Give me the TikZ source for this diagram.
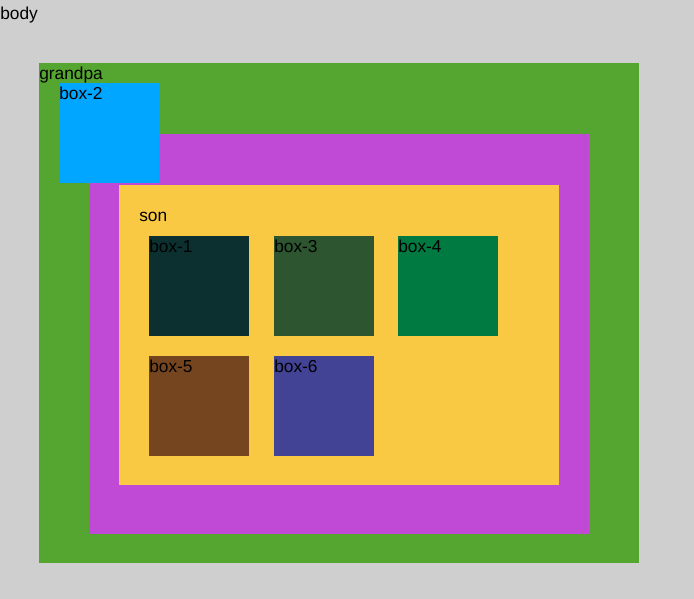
\documentclass[tikz,border=0pt]{standalone}
\usepackage{fontspec}
\setmainfont{Liberation Sans}
\definecolor{bodygray}{RGB}{207,207,207}
\definecolor{grandpagreen}{RGB}{85,166,48}
\definecolor{fatherpurple}{RGB}{192,74,214}
\definecolor{sonyellow}{RGB}{249,201,67}
\definecolor{boxblue}{RGB}{0,166,255}
\definecolor{boxone}{RGB}{12,48,48}
\definecolor{boxthree}{RGB}{44,85,48}
\definecolor{boxfour}{RGB}{0,122,64}
\definecolor{boxfive}{RGB}{117,69,31}
\definecolor{boxsix}{RGB}{67,67,150}
\begin{document}
\begin{tikzpicture}[x=0.75pt,y=-0.75pt,
        font=\fontsize{13}{15}\selectfont,
        area/.style={fill=#1, draw=none, anchor=north west, inner sep=0pt, outer sep=0pt},
        tag/.style={anchor=base west, inner sep=0pt}]
        \useasboundingbox (0,0) rectangle (694,599);

        %Rect body
        \node [area=bodygray, minimum width=520.5pt, minimum height=449.25pt] (body) at (0,0) {};
        %Rect grandpa
        \node [area=grandpagreen, minimum width=450pt, minimum height=375pt] (grandpa) at (39,63) {};
        %Rect father
        \node [area=fatherpurple, minimum width=375pt, minimum height=300pt] (father) at (89,134) {};
        %Rect son
        \node [area=sonyellow, minimum width=330pt, minimum height=225pt] (son) at (119,185) {};
        %Rect box-2
        \node [area=boxblue, minimum size=75pt] (box2) at (59,83) {};
        %Rect box-1
        \node [area=boxone, minimum size=75pt] (box1) at (149,236) {};
        %Rect box-3
        \node [area=boxthree, minimum size=75pt] (box3) at (274,236) {};
        %Rect box-4
        \node [area=boxfour, minimum size=75pt] (box4) at (398,236) {};
        %Rect box-5
        \node [area=boxfive, minimum size=75pt] (box5) at (149,356) {};
        %Rect box-6
        \node [area=boxsix, minimum size=75pt] (box6) at (274,356) {};

        % Text Node
        \node [tag] (bodytext) at ([yshift=-15pt]body.north west) {body};
        % Text Node
        \node [tag] (grandpatext) at ([yshift=-12.75pt]grandpa.north west) {grandpa};
        % Text Node
        \node [tag] (box2text) at ([yshift=-12.75pt]box2.north west) {box-2};
        % Text Node
        \node [tag] (sontext) at ([xshift=15pt,yshift=-27.75pt]son.north west) {son};
        % Text Node
        \node [tag] (box1text) at ([yshift=-12.75pt]box1.north west) {box-1};
        % Text Node
        \node [tag] (box3text) at ([yshift=-12.75pt]box3.north west) {box-3};
        % Text Node
        \node [tag] (box4text) at ([yshift=-12.75pt]box4.north west) {box-4};
        % Text Node
        \node [tag] (box5text) at ([yshift=-12.75pt]box5.north west) {box-5};
        % Text Node
        \node [tag] (box6text) at ([yshift=-12.75pt]box6.north west) {box-6};
\end{tikzpicture}
\end{document}
